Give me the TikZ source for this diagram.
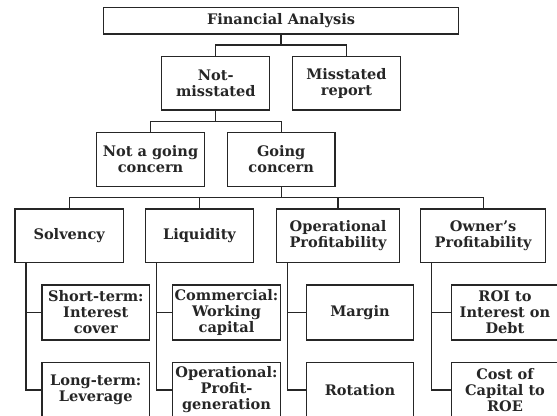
\documentclass[tikz,border=0pt]{standalone}
\usepackage{amsmath}
\usepackage{fontspec}
\setmainfont{DejaVu Serif}

\tikzset{
  box/.style={draw, line width=1.3pt, align=center, inner sep=0pt,
    font=\fontsize{14.6}{16}\selectfont\bfseries},
  subbox/.style={box, minimum width=107.5bp, minimum height=55bp},
  link/.style={line width=1.3pt},
}

\begin{document}
\begin{tikzpicture}[x=1bp, y=-1bp, black!85]
    \clip (0,0) rectangle (557,415);

    \node[box, minimum width=355.4bp, minimum height=26.7bp] (fa) at (281,20.7) {Financial Analysis};

    \node[box, minimum width=108bp, minimum height=53.3bp] (notmis) at (215.8,83.3) {Not-\\misstated};
    \node[box, minimum width=108.4bp, minimum height=53.3bp] (misrep) at (346.5,83.3) {Misstated\\report};

    \node[box, minimum width=107.6bp, minimum height=54.4bp] (notgc) at (150.5,159.5) {Not a going\\concern};
    \node[box, minimum width=107.7bp, minimum height=54.4bp] (gc) at (281.2,159.5) {Going\\concern};

    \node[box, minimum width=108.3bp, minimum height=53.7bp] (solv) at (69.2,235.8) {Solvency};
    \node[box, minimum width=107.6bp, minimum height=53.7bp] (liq) at (199.5,235.8) {Liquidity};
    \node[box, minimum width=122.6bp, minimum height=53.7bp] (opprof) at (338,235.8) {Operational\\Profitability};
    \node[box, minimum width=125bp, minimum height=53.7bp] (ownprof) at (483.2,235.8) {Owner's\\Profitability};

    \node[subbox] (stic) at (95.8,312.5) {Short-term:\\Interest\\cover};
    \node[subbox] (ltlev) at (95.8,390) {Long-term:\\Leverage};
    \node[subbox] (comwc) at (226.5,312.5) {Commercial:\\Working\\capital};
    \node[subbox] (opgen) at (226.5,390) {Operational:\\Profit-\\generation};
    \node[subbox] (margin) at (360,312.5) {Margin};
    \node[subbox] (rot) at (360,390) {Rotation};
    \node[subbox] (roi) at (505,312.5) {ROI to\\Interest on\\Debt};
    \node[subbox] (coc) at (505,390) {Cost of\\Capital to\\ROE};

    % branch bars
    \coordinate (bar1) at (281,45);
    \coordinate (bar2) at (216,121.7);
    \coordinate (bar3) at (281,197.7);

    \draw[link] (fa) -- (bar1);
    \draw[link] (notmis.north) |- (bar1) -| (misrep.north);

    \draw[link] (notmis.south) -- (notmis.south |- bar2);
    \draw[link] (notgc.north) |- (bar2) -| (gc.north);

    \draw[link] (gc.south) -- (gc.south |- bar3);
    \draw[link] (solv.north) |- (bar3) -| (ownprof.north);
    \draw[link] (liq.north) -- (liq.north |- bar3);
    \draw[link] (opprof.north) -- (opprof.north |- bar3);

    \foreach \p/\a/\b in {solv/stic/ltlev, liq/comwc/opgen, opprof/margin/rot, ownprof/roi/coc}
      \draw[link] ([xshift=11.5bp]\p.south west) |- (\b.west)
                  ([xshift=11.5bp]\p.south west) |- (\a.west);
\end{tikzpicture}
\end{document}
